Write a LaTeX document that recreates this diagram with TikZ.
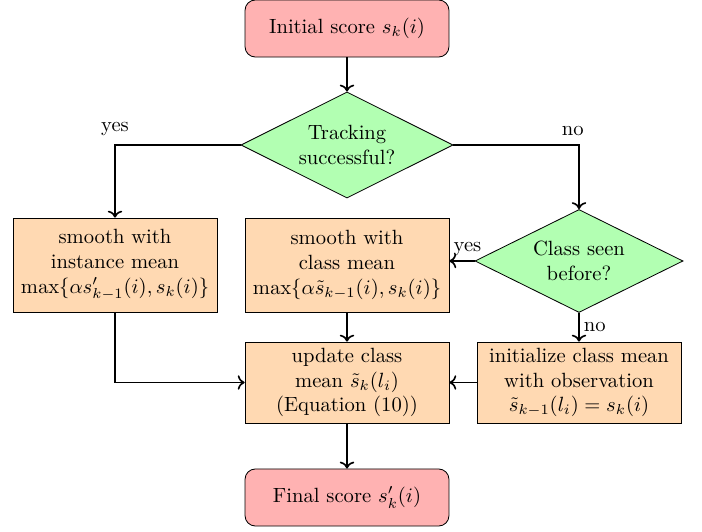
\documentclass[tikz,border=0pt]{standalone}
\usetikzlibrary{shapes.geometric,arrows.meta}
\tikzset{
  term/.style={draw, rounded corners=5pt, fill=red!30, minimum width=99pt, minimum height=27.7pt, align=center},
  proc/.style={draw, fill=orange!30, minimum width=99pt, align=center, inner sep=2pt},
  decision/.style={draw, diamond, fill=green!30, shape aspect=2, inner sep=1pt, align=center},
  conn/.style={->, thick},
  lbl/.style={inner sep=2pt}
}
\begin{document}
\begin{tikzpicture}[x=0.4855pt,y=-0.4855pt]
\useasboundingbox (0,0) rectangle (702,532);
\node[term] (init) at (347,28.5) {Initial score $s_k(i)$};
\node[decision, minimum width=103pt, minimum height=51.5pt] (track) at (347,145) {Tracking\\successful?};
\node[proc, minimum height=45.6pt] (left) at (115,265) {smooth with\\instance mean\\$\max\{\alpha s'_{k-1}(i), s_k(i)\}$};
\node[proc, minimum height=45.6pt] (mid) at (347,265) {smooth with\\class mean\\$\max\{\alpha \tilde{s}_{k-1}(i), s_k(i)\}$};
\node[decision, minimum width=101pt, minimum height=50pt] (cls) at (579,261) {Class seen\\before?};
\node[proc, minimum height=39.3pt] (upd) at (347,382.5) {update class\\mean $\tilde{s}_k(l_i)$\\(Equation (10))};
\node[proc, minimum height=39.3pt] (ini) at (579,382.5) {initialize class mean\\with observation\\$\tilde{s}_{k-1}(l_i) = s_k(i)$};
\node[term] (fin) at (347,497.5) {Final score $s'_k(i)$};

\draw[conn] (init) -- (track);
\draw[conn] (track.west) -| node[pos=0.5, above, lbl, yshift=2pt] {yes} (left.north);
\draw[conn] (track.east) -| node[pos=0.5, above, lbl, yshift=2pt, xshift=-3pt] {no} (cls.north);
\draw[conn] (cls.west) -- node[pos=0.28, above, lbl] {yes} (cls.west -| mid.east);
\draw[conn] (cls.south) -- node[midway, right, lbl] {no} (ini.north);
\draw[conn] (mid) -- (upd);
\draw[conn] (ini) -- (upd);
\draw[conn] (left.south) |- (upd.west);
\draw[conn] (upd) -- (fin);
\end{tikzpicture}
\end{document}
